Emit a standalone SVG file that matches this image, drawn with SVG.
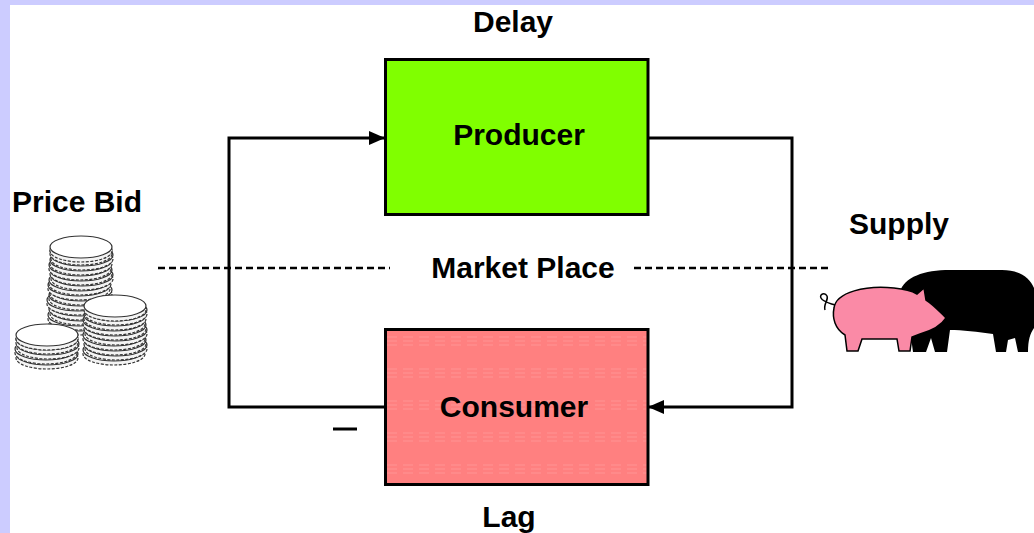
<svg xmlns="http://www.w3.org/2000/svg" xmlns:xlink="http://www.w3.org/1999/xlink" width="1034" height="533" viewBox="0 0 1034 533">
  <style>
    .lbl { font-family: "Liberation Sans", Arial, sans-serif; font-weight: bold; font-size: 30px; fill: #000; text-anchor: middle; }
    .box { stroke: #000; stroke-width: 3; }
    .wire { fill: none; stroke: #000; stroke-width: 3; }
    .dash { fill: none; stroke: #000; stroke-width: 2.5; stroke-dasharray: 7 4; }
    .coin-top { fill: #fff; stroke: #333; stroke-width: 1.2; }
    .coin-edge { fill: #f4f4f4; stroke: #333; stroke-width: 1.2; stroke-dasharray: 3 1.5; }
  </style>
  <defs>
    <marker id="arrow" viewBox="0 0 16 14" refX="16" refY="7" markerWidth="16" markerHeight="14" markerUnits="userSpaceOnUse" orient="auto">
      <path d="M0,0 L16,7 L0,14 Z" fill="#000"/>
    </marker>
    <pattern id="stripes" width="16" height="32" patternUnits="userSpaceOnUse" x="385" y="329">
      <path d="M2,8 H12 M2,12 H12 M2,16 H12" stroke="#ff9494" stroke-width="1"/>
    </pattern>
    <g id="coin">
      <ellipse class="coin-edge" cx="0" cy="4" rx="31" ry="11"/>
      <ellipse class="coin-top" cx="0" cy="0" rx="31" ry="11"/>
    </g>
  </defs>

  <!-- page frame -->
  <rect x="0" y="0" width="1034" height="533" fill="#fff"/>
  <rect x="0" y="0" width="1034" height="5" fill="#ccccff"/>
  <rect x="0" y="0" width="10" height="533" fill="#ccccff"/>

  <!-- market place divider -->
  <g id="divider">
    <path class="dash" d="M158,268 H390"/>
    <path class="dash" d="M634,268 H832"/>
  </g>

  <!-- feedback loop connectors -->
  <g id="connectors">
    <path class="wire" d="M385,407 H229 V138 H385" marker-end="url(#arrow)"/>
    <path class="wire" d="M648,138 H792 V407 H648" marker-end="url(#arrow)"/>
    <path d="M333,429 H357" stroke="#000" stroke-width="3"/>
  </g>

  <g id="producer">
    <rect class="box" x="385.5" y="59.5" width="262.5" height="155" fill="#80ff00"/>
    <text class="lbl" x="519" y="145">Producer</text>
  </g>

  <g id="consumer">
    <rect x="385.5" y="329.5" width="262.5" height="155" fill="#ff8080"/>
    <rect x="387" y="331" width="259.5" height="152" fill="url(#stripes)"/>
    <rect class="box" x="385.5" y="329.5" width="262.5" height="155" fill="none"/>
    <text class="lbl" x="514" y="417">Consumer</text>
  </g>

  <g id="labels">
    <text class="lbl" x="513" y="32">Delay</text>
    <text class="lbl" x="523" y="278">Market Place</text>
    <text class="lbl" x="509" y="527">Lag</text>
    <text class="lbl" x="77" y="212">Price Bid</text>
    <text class="lbl" x="899" y="234">Supply</text>
  </g>

  <!-- coin stacks -->
  <g id="coins">
    <use xlink:href="#coin" x="80" y="320"/>
    <use xlink:href="#coin" x="79" y="315"/>
    <use xlink:href="#coin" x="81" y="310"/>
    <use xlink:href="#coin" x="80" y="305"/>
    <use xlink:href="#coin" x="78" y="300"/>
    <use xlink:href="#coin" x="80" y="295"/>
    <use xlink:href="#coin" x="81" y="290"/>
    <use xlink:href="#coin" x="79" y="285"/>
    <use xlink:href="#coin" x="80" y="280"/>
    <use xlink:href="#coin" x="82" y="275"/>
    <use xlink:href="#coin" x="81" y="270"/>
    <use xlink:href="#coin" x="80" y="265"/>
    <use xlink:href="#coin" x="81" y="260"/>
    <use xlink:href="#coin" x="82" y="255"/>
    <use xlink:href="#coin" x="81" y="250"/>
    <use xlink:href="#coin" x="81" y="247"/>

    <use xlink:href="#coin" x="114" y="350"/>
    <use xlink:href="#coin" x="116" y="345"/>
    <use xlink:href="#coin" x="115" y="340"/>
    <use xlink:href="#coin" x="114" y="335"/>
    <use xlink:href="#coin" x="116" y="330"/>
    <use xlink:href="#coin" x="115" y="325"/>
    <use xlink:href="#coin" x="114" y="320"/>
    <use xlink:href="#coin" x="115" y="315"/>
    <use xlink:href="#coin" x="116" y="310"/>
    <use xlink:href="#coin" x="115" y="306"/>

    <use xlink:href="#coin" x="47" y="354"/>
    <use xlink:href="#coin" x="46" y="349"/>
    <use xlink:href="#coin" x="48" y="344"/>
    <use xlink:href="#coin" x="47" y="339"/>
    <use xlink:href="#coin" x="47" y="335"/>
  </g>

  <!-- pigs -->
  <g id="pigs">
    <path d="M900,292 C904,277 924,270 950,270 L1002,270 C1020,270 1030,278 1034,288 L1034,328 C1030,334 1028,340 1028,352 L1018,352 L1015,338 L1008,340 L1006,352 L996,352 L993,334 C978,332 962,330 950,330 L947,352 L935,352 L931,338 L926,352 L913,352 L910,330 Z" fill="#000"/>
    <path d="M834,308 C836,292 866,285 894,288 C905,289 912,291 917,294 L924,288 L926,300 C934,305 940,312 946,318 C941,326 931,331 920,334 L912,337 L910,351 L899,351 L897,339 L862,339 L858,351 L847,351 L845,335 C835,329 832,318 834,308 Z" fill="#fa8aa6" stroke="#000" stroke-width="1.5"/>
    <path d="M835,305 C829,303 823,302 821,298 C819,294 825,292 827,296 C829,300 823,304 825,310" fill="none" stroke="#000" stroke-width="1.5"/>
  </g>
</svg>
